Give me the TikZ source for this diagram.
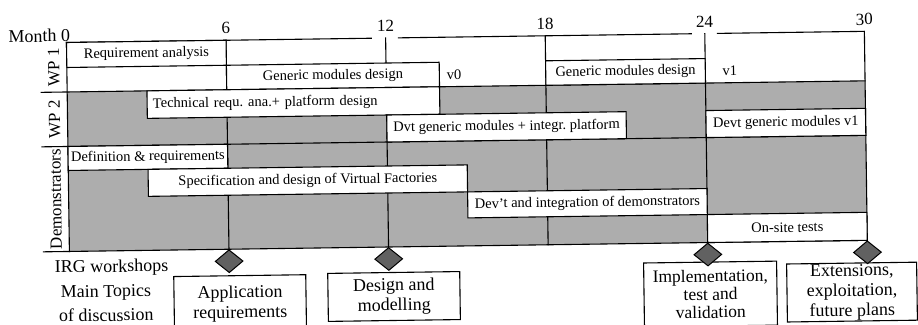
\documentclass[tikz,border=0pt]{standalone}
\usepackage{fontspec}
\setmainfont{Liberation Serif}
\usetikzlibrary{shapes.geometric}
\frenchspacing
\begin{document}
\begin{tikzpicture}[x=1pt,y=-1pt,
  ln/.style={line width=1.1pt, line cap=rect},
  bar/.style={draw, fill=white, line width=1.1pt, inner sep=0pt, font=\fontsize{14.5}{16}\selectfont},
  tiny/.style={inner sep=0pt, font=\fontsize{14.5}{16}\selectfont},
  lbl/.style={inner sep=0pt, font=\fontsize{18}{20}\selectfont},
  num/.style={inner sep=0pt, font=\fontsize{17}{19}\selectfont},
  side/.style={inner sep=0pt, rotate=90, font=\fontsize{17}{19}\selectfont},
  topic/.style={draw, fill=white, line width=1.1pt, inner sep=0pt, align=center, anchor=north, font=\fontsize{18}{20}\selectfont},
  mile/.style={diamond, draw, line width=1pt, fill=black!62, inner sep=0pt, minimum width=28pt, minimum height=23pt, anchor=north}]
\useasboundingbox (0,0) rectangle (918,324);
\clip (0,0) rectangle (918,324);
\fill[white] (0,0) rectangle (918,324);
\begin{scope}[rotate around={0.8:(460,150)}, transform shape]
  % shaded area of WP 2 and Demonstrators
  \fill[black!32] (68,86.5) rectangle (866,246);
  % grid
  \foreach \x in {227.6,387.2,546.8,706.4} \draw[ln] (\x,37) -- (\x,246);
  \draw[ln] (68,37) -- (68,246);
  \draw[ln] (866,37) -- (866,246);
  \draw[ln] (68,37) -- (373,37);
  \draw[ln] (400,37) -- (693,37);
  \draw[ln] (719,37) -- (866,37);
  \draw[ln] (42,86.5) -- (866,86.5);
  \draw[ln] (42,141) -- (866,141);
  \draw[ln] (42,246) -- (866,246);
  % month labels
  \node[lbl] (m0) at (41,30) {Month 0};
  \node[num] (m6) at (227.6,25) {6};
  \node[num] (m12) at (387.2,25) {12};
  \node[num] (m18) at (546.8,25) {18};
  \node[num] (m24) at (706.4,25) {24};
  \node[num] (m30) at (866,25) {30};
  % side labels
  \node[side] (wp1) at (55,61.75) {WP 1};
  \node[side] (wp2) at (55,113.75) {WP 2};
  \node[side] (demo) at (55,193.5) {Demonstrators};
  % WP 1
  \node[bar, minimum width=159.6, minimum height=25] (req) at (147.8,49.5) {Requirement analysis};
  \node[bar, minimum width=212.8, minimum height=24.5] (gmd0) at (334,74.25) {Generic modules design};
  \node[tiny] (v0) at (455,74.25) {v0};
  \node[bar, minimum width=159.6, minimum height=24.5] (gmd1) at (626.6,74.25) {Generic modules design};
  \node[tiny] (v1) at (731,74.25) {v1};
  % WP 2
  \node[bar, minimum width=292.6, minimum height=27.5, text width=281, inner xsep=5.8, align=left] (tech) at (294.1,100.25) {Technical requ. ana.+ platform design};
  \node[bar, minimum width=239.4, minimum height=27] (dvt) at (506.9,127.5) {Dvt generic modules + integr. platform};
  \node[bar, minimum width=159.6, minimum height=27] (dvt1) at (786.2,127.5) {Devt generic modules v1};
  % Demonstrators
  \node[bar, minimum width=159.6, minimum height=24] (def) at (147.8,153) {Definition \& requirements};
  \node[bar, minimum width=319.2, minimum height=27] (spec) at (307.4,178.5) {Specification and design of Virtual Factories};
  \node[bar, minimum width=239.4, minimum height=26] (devt) at (586.7,205) {Dev't and integration of demonstrators};
  \node[bar, minimum width=159.6, minimum height=28] (onsite) at (786.2,232) {On-site tests};
  % bottom part
  \node[lbl] (irg) at (110,263) {IRG workshops};
  \node[lbl] (mt1) at (104,288) {Main Topics};
  \node[lbl] (mt2) at (104,310) {of discussion};
  \node[topic, minimum width=132, minimum height=56] (t1) at (238,272) {Application\\requirements};
  \node[topic, minimum width=132, minimum height=48] (t2) at (392,271) {Design and\\modelling};
  \node[topic, minimum width=133, minimum height=64, font=\fontsize{17.5}{18}\selectfont] (t3) at (708.5,265) {Implementation,\\test and\\validation};
  \node[topic, minimum width=130, minimum height=58] (t4) at (850,268) {Extensions,\\exploitation,\\future plans};
  \node[mile] (w1) at (227.6,246) {};
  \node[mile] (w2) at (387.2,246) {};
  \node[mile] (w3) at (706.4,246) {};
  \node[mile] (w4) at (866,246) {};
\end{scope}
\end{tikzpicture}
\end{document}
